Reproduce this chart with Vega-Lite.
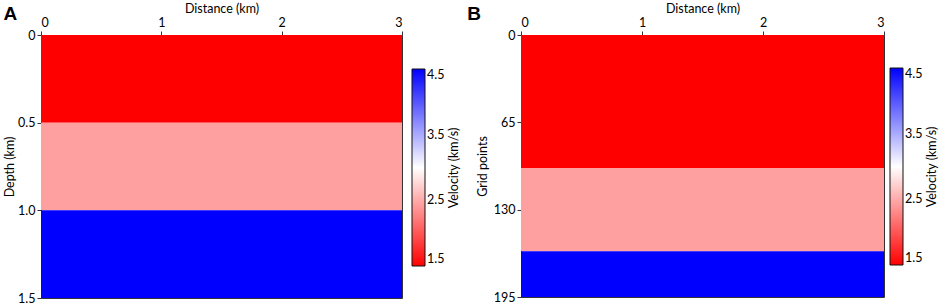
{
  "$schema": "https://vega.github.io/schema/vega-lite/v6.json",
  "background": "white",
  "padding": {"left": 3, "top": 1, "right": 0, "bottom": 0},
  "spacing": 4,
  "datasets": {
    "a": [
      {"x": 0, "x2": 3, "y": 0, "y2": 0.5, "v": 1.5},
      {"x": 0, "x2": 3, "y": 0.5, "y2": 1.0, "v": 2.44},
      {"x": 0, "x2": 3, "y": 1.0, "y2": 1.5, "v": 4.5}
    ],
    "b": [
      {"x": 0, "x2": 3, "y": 0, "y2": 99, "v": 1.5},
      {"x": 0, "x2": 3, "y": 99, "y2": 161, "v": 2.44},
      {"x": 0, "x2": 3, "y": 161, "y2": 195, "v": 4.5}
    ]
  },
  "hconcat": [
    {
      "title": {"text": "A", "anchor": "start", "frame": "bounds", "dy": 26, "dx": 0},
      "width": 361,
      "height": 263,
      "data": {"name": "a"},
      "mark": {"type": "rect"},
      "encoding": {
        "x": {"field": "x", "type": "quantitative", "scale": {"domain": [0, 3], "nice": false},
              "axis": {"orient": "top", "title": "Distance (km)", "values": [0, 1, 2, 3]}},
        "x2": {"field": "x2"},
        "y": {"field": "y", "type": "quantitative", "scale": {"domain": [0, 1.5], "reverse": true, "nice": false},
              "axis": {"title": "Depth (km)", "values": [0, 0.5, 1.0, 1.5],
                       "labelExpr": "datum.value == 0 ? '0' : format(datum.value, '.1f')"}},
        "y2": {"field": "y2"},
        "color": {"field": "v", "type": "quantitative",
                  "scale": {"domain": [1.5, 3, 4.5], "range": ["#ff0000", "#ffffff", "#0000ff"], "interpolate": "rgb"},
                  "legend": {"orient": "none", "legendX": 371, "legendY": 34,
                             "title": "Velocity (km/s)", "titleOrient": "right",
                             "values": [1.5, 2.5, 3.5, 4.5], "format": ".1f",
                             "encode": {"title": {"update": {"angle": {"value": -90}, "baseline": {"value": "top"}}}}}}
      }
    },
    {
      "title": {"text": "B", "anchor": "start", "frame": "bounds", "dy": 26, "dx": -9},
      "width": 363,
      "height": 262,
      "data": {"name": "b"},
      "mark": {"type": "rect"},
      "encoding": {
        "x": {"field": "x", "type": "quantitative", "scale": {"domain": [0, 3], "nice": false},
              "axis": {"orient": "top", "title": "Distance (km)", "values": [0, 1, 2, 3]}},
        "x2": {"field": "x2"},
        "y": {"field": "y", "type": "quantitative", "scale": {"domain": [0, 195], "reverse": true, "nice": false},
              "axis": {"title": "Grid points", "values": [0, 65, 130, 195], "titlePadding": 4}},
        "y2": {"field": "y2"},
        "color": {"field": "v", "type": "quantitative",
                  "scale": {"domain": [1.5, 3, 4.5], "range": ["#ff0000", "#ffffff", "#0000ff"], "interpolate": "rgb"},
                  "legend": {"orient": "none", "legendX": 369, "legendY": 33,
                             "title": "Velocity (km/s)", "titleOrient": "right",
                             "values": [1.5, 2.5, 3.5, 4.5], "format": ".1f",
                             "encode": {"title": {"update": {"angle": {"value": -90}, "baseline": {"value": "top"}}}}}}
      }
    }
  ],
  "resolve": {"scale": {"color": "independent"}, "legend": {"color": "independent"}},
  "config": {
    "font": "Lato",
    "view": {"stroke": "#333333", "strokeWidth": 1},
    "title": {"font": "Liberation Sans", "fontSize": 19, "fontWeight": "bold", "color": "black"},
    "axis": {"domainColor": "#333333", "tickColor": "#333333", "tickSize": 4, "grid": false,
             "labelFont": "Lato", "labelFontSize": 12.5, "labelColor": "black", "labelPadding": 2,
             "titleFont": "Lato", "titleFontSize": 12.5, "titleFontWeight": "normal", "titleColor": "black",
             "titlePadding": 1},
    "legend": {"gradientLength": 197, "gradientThickness": 13, "gradientStrokeColor": "#111111",
               "gradientStrokeWidth": 1, "labelFont": "Lato", "labelFontSize": 12.5, "labelColor": "black",
               "labelOffset": 7, "labelBaseline": "middle", "titleFont": "Lato", "titleFontSize": 12.5,
               "titleFontWeight": "normal", "titleColor": "black", "titlePadding": 4}
  }
}
